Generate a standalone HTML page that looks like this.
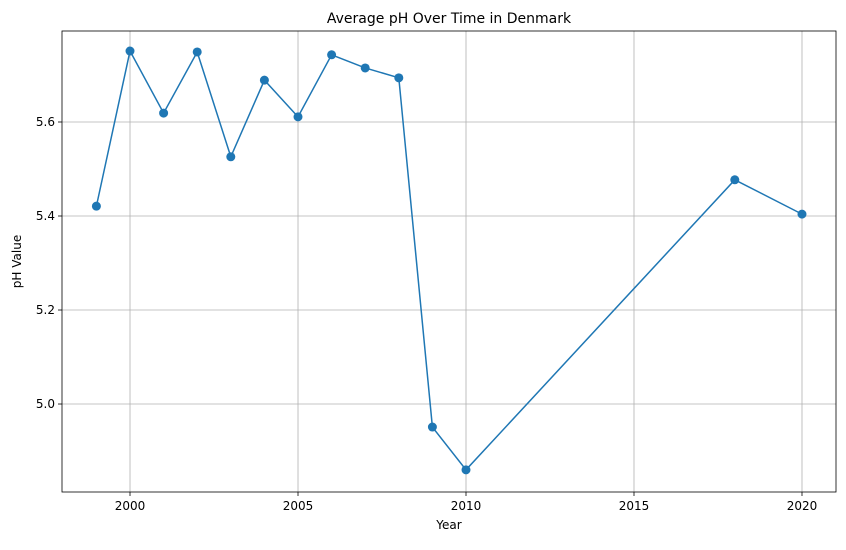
<!DOCTYPE html>
<html><head><meta charset="utf-8"><style>
body{margin:0;background:#fff;font-family:"Liberation Sans","DejaVu Sans",sans-serif;}
svg text{font-family:"DejaVu Sans","Liberation Sans",sans-serif;}
</style></head><body>
<svg id="chart" width="846" height="545" xmlns="http://www.w3.org/2000/svg"></svg>
<script>
const years=[1999,2000,2001,2002,2003,2004,2005,2006,2007,2008,2009,2010,2018,2020];
const phValues=[5.421,5.751,5.619,5.749,5.526,5.689,5.611,5.743,5.715,5.694,4.951,4.860,5.477,5.404];
const xTicks=[2000,2005,2010,2015,2020];
const yTicks=[5.0,5.2,5.4,5.6];
const yTickLabels=["5.0","5.2","5.4","5.6"];

const L=62,R=836,T=31,B=492;
const xMin=1997.976,xMax=2021.012,yMin=4.8128,yMax=5.7936;
const sx=v=>L+(v-xMin)/(xMax-xMin)*(R-L);
const sy=v=>B-(v-yMin)/(yMax-yMin)*(B-T);
const svg=document.getElementById('chart');
const NS='http://www.w3.org/2000/svg';
function mk(tag,attrs,parent){const e=document.createElementNS(NS,tag);for(const k in attrs)e.setAttribute(k,attrs[k]);(parent||svg).appendChild(e);return e;}

xTicks.forEach(t=>{
  const g=mk('line',{x1:sx(t),x2:sx(t),y1:T,y2:B,stroke:'#b0b0b0','stroke-width':0.8});
  
  
  mk('line',{x1:sx(t),x2:sx(t),y1:B,y2:B+4,stroke:'#000','stroke-width':0.8});
  const tx=mk('text',{x:sx(t),y:B+18,'text-anchor':'middle','font-size':12,fill:'#000'});
  tx.textContent=t;
  
  
});
yTicks.forEach((t,i)=>{
  const g=mk('line',{x1:L,x2:R,y1:sy(t),y2:sy(t),stroke:'#b0b0b0','stroke-width':0.8});
  
  
  mk('line',{x1:L-4,x2:L,y1:sy(t),y2:sy(t),stroke:'#000','stroke-width':0.8});
  const tx=mk('text',{x:L-7,y:sy(t)+4,'text-anchor':'end','font-size':12,fill:'#000'});
  tx.textContent=yTickLabels[i];
  
  
});
const frame=mk('rect',{x:L,y:T,width:R-L,height:B-T,fill:'none',stroke:'#000','stroke-width':0.8});



const pts=years.map((y,i)=>sx(y)+','+sy(phValues[i])).join(' ');
const line=mk('polyline',{points:pts,fill:'none',stroke:'#1f77b4','stroke-width':1.5});


years.forEach((y,i)=>{
  const c=mk('circle',{cx:sx(y),cy:sy(phValues[i]),r:4.5,fill:'#1f77b4'});
  
  
});

const title=mk('text',{x:(L+R)/2,y:T-8,'text-anchor':'middle','font-size':14,fill:'#000'});
title.textContent='Average pH Over Time in Denmark';


const xl=mk('text',{x:(L+R)/2,y:B+37,'text-anchor':'middle','font-size':12,fill:'#000'});
xl.textContent='Year';


const yl=mk('text',{x:0,y:0,'text-anchor':'middle','font-size':12,fill:'#000',transform:`translate(21,${(T+B)/2}) rotate(-90)`});
yl.textContent='pH Value';


</script>
</body></html>
